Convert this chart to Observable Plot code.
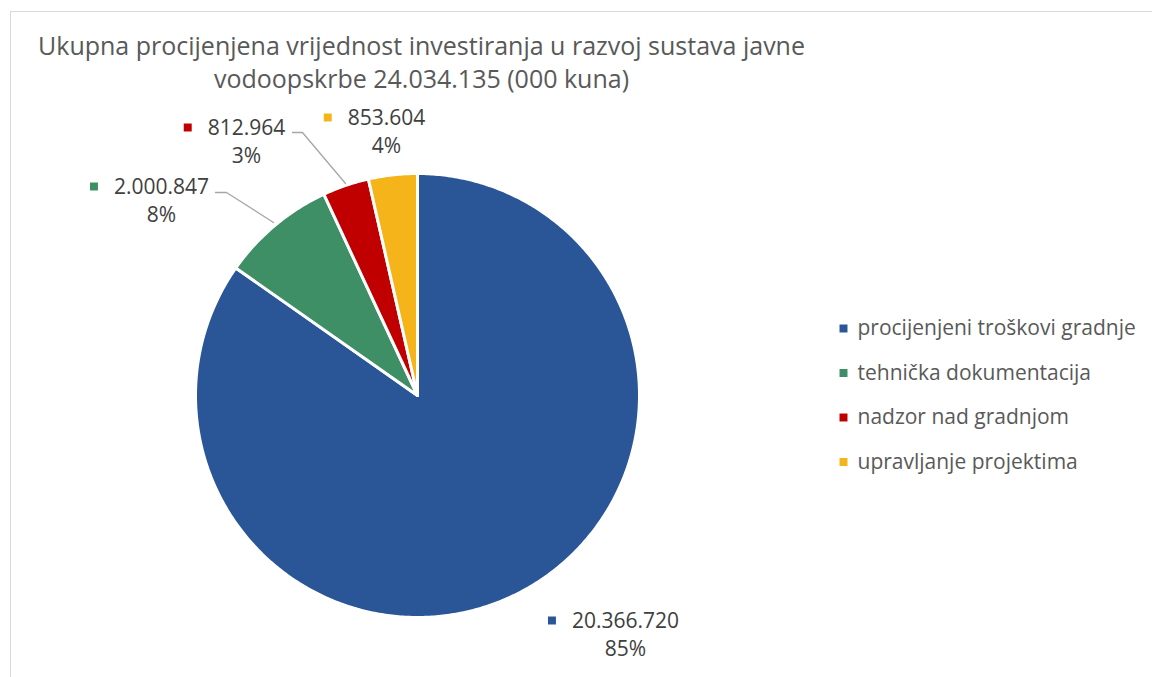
<!DOCTYPE html>
<html>
<head>
<meta charset="utf-8">
<script src="https://cdn.jsdelivr.net/npm/d3@7"></script>
<script src="https://cdn.jsdelivr.net/npm/@observablehq/plot@0.6"></script>
<style>
  html, body { margin: 0; padding: 0; background: #fff; }
  #wrap { position: relative; width: 1152px; height: 677px; overflow: hidden; }
  #border { position: absolute; left: 10px; top: 11px; width: 1200px; height: 700px; border: 1.5px solid #d9d9d9; box-sizing: border-box; }
  #chart { position: absolute; left: 0; top: 0; }
</style>
</head>
<body>
<div id="wrap"><div id="border"></div><div id="chart"></div></div>
<script>
const titleLines = ["Ukupna procijenjena vrijednost investiranja u razvoj sustava javne", "vodoopskrbe 24.034.135 (000 kuna)"];
const categories = ["procijenjeni troškovi gradnje", "tehnička dokumentacija", "nadzor nad gradnjom", "upravljanje projektima"];
const values = [20366720, 2000847, 812964, 853604];
const valueLabels = ["20.366.720", "2.000.847", "812.964", "853.604"];
const percentLabels = ["85%", "8%", "3%", "4%"];
const colors = ["#2a5596", "#3e8e66", "#c00000", "#f5b51a"];

// layout
const W = 1152, H = 677;
const cx = 417, cy = 395, R = 222;
const font = "Open Sans";
const textColor = "#595959";
const labelSize = 21, legendSize = 21, titleSize = 25;

const ctx = document.createElement("canvas").getContext("2d");
function textWidth(s, size) { ctx.font = `${size}px "${font}"`; return ctx.measureText(s).width; }

// pie geometry from data
const total = d3.sum(values);
const pieData = [];
let acc = 0;
values.forEach((v, i) => {
  const a0 = acc / total * 2 * Math.PI;
  acc += v;
  const a1 = acc / total * 2 * Math.PI;
  const n = Math.max(4, Math.ceil((a1 - a0) / 0.01));
  pieData.push({cat: categories[i], x: cx, y: cy, k: 0});
  for (let j = 0; j <= n; j++) {
    const a = a0 + (a1 - a0) * j / n;
    pieData.push({cat: categories[i], x: cx + R * Math.sin(a), y: cy - R * Math.cos(a), k: j + 1});
  }
  pieData.push({cat: categories[i], x: cx, y: cy, k: n + 2});
});

// label anchors (layout)
const labelPos = [
  {x: 625, y: 621},
  {x: 161, y: 187},
  {x: 246, y: 128},
  {x: 386, y: 118}
];
const labels = categories.map((c, i) => ({cat: c, v: valueLabels[i], p: percentLabels[i], x: labelPos[i].x, y: labelPos[i].y}));
const labelSquares = labels.map(d => ({cat: d.cat, x: d.x - textWidth(d.v, labelSize) / 2 - 20, y: d.y - 1}));

const leaders = [
  {cat: categories[1], x: 215, y: 192}, {cat: categories[1], x: 226, y: 192}, {cat: categories[1], x: 273, y: 222},
  {cat: categories[2], x: 292, y: 132}, {cat: categories[2], x: 302, y: 132}, {cat: categories[2], x: 345, y: 183}
];

const legendX = 857, legendY0 = 328, legendDy = 44.5;
const legend = categories.map((c, i) => ({cat: c, x: legendX, y: legendY0 + i * legendDy}));

const color = {domain: categories, range: colors};

const chart = Plot.plot({
  width: W, height: H,
  margin: 0,
  x: {domain: [0, W], range: [0, W], axis: null},
  y: {domain: [0, H], range: [0, H], axis: null},
  color,
  style: {fontFamily: font, background: "transparent"},
  marks: [
    Plot.line(pieData, {x: "x", y: "y", z: "cat", fill: "cat", stroke: "white", strokeWidth: 3, strokeLinejoin: "round", curve: "linear"}),
    Plot.line(leaders, {x: "x", y: "y", z: "cat", stroke: "#a6a6a6", strokeWidth: 1.3}),
    Plot.text(titleLines, {x: 421, y: (d, i) => 46 + i * 33, text: d => d, fontSize: titleSize, fill: textColor, textAnchor: "middle"}),
    Plot.text(labels, {x: "x", y: "y", text: "v", fontSize: labelSize, fill: "#404040", textAnchor: "middle"}),
    Plot.text(labels, {x: "x", y: d => d.y + 28, text: "p", fontSize: labelSize, fill: "#404040", textAnchor: "middle"}),
    Plot.dot(labelSquares, {x: "x", y: "y", symbol: "square", r: 4.5, fill: "cat", stroke: null}),
    Plot.dot(legend, {x: d => d.x - 14, y: "y", symbol: "square", r: 4.5, fill: "cat", stroke: null}),
    Plot.text(legend, {x: "x", y: "y", text: "cat", fontSize: legendSize, fill: textColor, textAnchor: "start"})
  ]
});
document.getElementById("chart").appendChild(chart);
</script>
</body>
</html>
